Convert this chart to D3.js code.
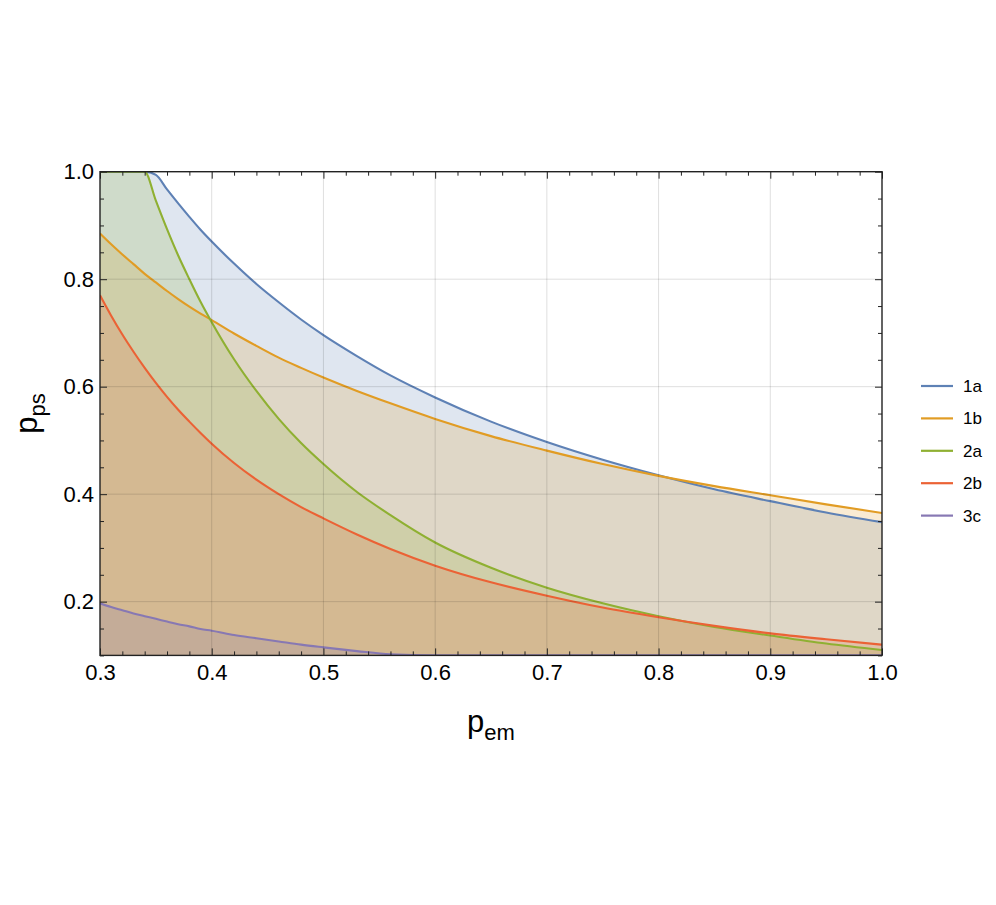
<!DOCTYPE html>
<html><head><meta charset="utf-8">
<script src="https://cdn.jsdelivr.net/npm/d3@7"></script>
<style>body{margin:0;background:#fff}</style>
</head><body><svg id="c" width="996" height="905" xmlns="http://www.w3.org/2000/svg"></svg>
<script>
// ---- data ----
const pem = [0.30,0.31,0.32,0.33,0.34,0.35,0.36,0.37,0.38,0.39,0.40,0.42,0.44,0.46,0.48,0.50,0.53,0.56,0.60,0.65,0.70,0.75,0.80,0.85,0.90,0.95,1.00];
const s1a = [1.0,1.0,1.0,1.0,1.0,0.994,0.967,0.941,0.916,0.892,0.870,0.829,0.791,0.757,0.725,0.696,0.657,0.621,0.580,0.535,0.497,0.464,0.435,0.409,0.387,0.366,0.348];
const s1b = [0.885,0.865,0.846,0.828,0.810,0.794,0.778,0.763,0.749,0.736,0.724,0.699,0.676,0.654,0.635,0.617,0.592,0.569,0.540,0.508,0.481,0.456,0.434,0.415,0.398,0.381,0.365];
const s2a = [1.0,1.0,1.0,1.0,1.0,0.946,0.893,0.844,0.800,0.758,0.720,0.651,0.592,0.540,0.495,0.456,0.404,0.361,0.310,0.263,0.226,0.197,0.173,0.153,0.137,0.122,0.110];
const s2b = [0.770,0.732,0.697,0.665,0.635,0.607,0.581,0.557,0.535,0.514,0.494,0.458,0.427,0.400,0.376,0.355,0.325,0.298,0.267,0.236,0.211,0.189,0.171,0.155,0.141,0.130,0.120];
const s3c = [0.197,0.190,0.184,0.178,0.173,0.168,0.163,0.158,0.154,0.149,0.146,0.138,0.132,0.126,0.120,0.115,0.108,0.102,0.100,0.100,0.100,0.100,0.100,0.100,0.100,0.100,0.100];
const seriesNames = ["1a","1b","2a","2b","3c"];
const seriesValues = [s1a,s1b,s2a,s2b,s3c];
const seriesColors = ["#5e81b5","#e19c24","#8fb032","#eb6235","#8778b3"];
const xMajor = [0.3,0.4,0.5,0.6,0.7,0.8,0.9,1.0];
const yMajor = [0.2,0.4,0.6,0.8,1.0];
const xMinor = d3.range(30,101,2).map(v=>v/100);
const yMinor = d3.range(10,101,5).map(v=>v/100);

// ---- layout ----
const L=100, R=882, T=171.7, B=655.4;
const x = d3.scaleLinear([0.3,1.0],[L,R]);
const y = d3.scaleLinear([0.1,1.0],[B,T]);
const svg = d3.select("#c");
const FONT = "'Liberation Sans', Arial, Helvetica, sans-serif";

svg.append("defs").append("clipPath").attr("id","clip")
  .append("rect").attr("x",L).attr("y",T).attr("width",R-L).attr("height",B-T);

const plot = svg.append("g").attr("clip-path","url(#clip)");
const area = d3.area().curve(d3.curveMonotoneX).x((d,i)=>x(pem[i])).y0(y(0.1)).y1(d=>y(d));
const line = d3.line().curve(d3.curveMonotoneX).x((d,i)=>x(pem[i])).y(d=>y(d));

seriesValues.forEach((vals,k)=>{
  plot.append("path").attr("d",area(vals))
    .attr("fill",seriesColors[k]).attr("fill-opacity",0.2).attr("stroke","none");
});

// grid
const grid = svg.append("g").attr("stroke","rgba(0,0,0,0.13)").attr("stroke-width",1);
xMajor.filter(v=>v>0.3&&v<1.0).forEach(v=>{
  grid.append("line").attr("x1",x(v)).attr("x2",x(v)).attr("y1",T).attr("y2",B);
});
yMajor.filter(v=>v<1.0).forEach(v=>{
  grid.append("line").attr("x1",L).attr("x2",R).attr("y1",y(v)).attr("y2",y(v));
});

seriesValues.forEach((vals,k)=>{
  plot.append("path").attr("d",line(vals))
    .attr("fill","none").attr("stroke",seriesColors[k]).attr("stroke-width",2.1);
});

// axes
function styleAxis(g){
  g.select(".domain").remove();
  g.selectAll(".tick line").attr("stroke","#222").attr("stroke-width",1);
  g.selectAll("text").attr("font-family",FONT).attr("font-size",22).attr("fill","#000");
}
const fmt = d3.format(".1f");
const notMajor = (arr, maj) => arr.filter(v=>!maj.some(m=>Math.abs(m-v)<1e-9));
svg.append("g").attr("transform",`translate(0,${B})`)
  .call(d3.axisBottom(x).tickValues(xMajor).tickSize(-7).tickSizeOuter(0).tickPadding(9).tickFormat(fmt)).call(styleAxis);
svg.append("g").attr("transform",`translate(0,${B})`)
  .call(d3.axisBottom(x).tickValues(notMajor(xMinor,xMajor)).tickSize(-4).tickSizeOuter(0).tickFormat("")).call(styleAxis);
svg.append("g").attr("transform",`translate(0,${T})`)
  .call(d3.axisTop(x).tickValues(xMajor).tickSize(-7).tickSizeOuter(0).tickFormat("")).call(styleAxis);
svg.append("g").attr("transform",`translate(0,${T})`)
  .call(d3.axisTop(x).tickValues(notMajor(xMinor,xMajor)).tickSize(-4).tickSizeOuter(0).tickFormat("")).call(styleAxis);
svg.append("g").attr("transform",`translate(${L},0)`)
  .call(d3.axisLeft(y).tickValues(yMajor).tickSize(-7).tickSizeOuter(0).tickPadding(6).tickFormat(fmt)).call(styleAxis);
svg.append("g").attr("transform",`translate(${L},0)`)
  .call(d3.axisLeft(y).tickValues(notMajor(yMinor,yMajor)).tickSize(-4).tickSizeOuter(0).tickFormat("")).call(styleAxis);
svg.append("g").attr("transform",`translate(${R},0)`)
  .call(d3.axisRight(y).tickValues(yMajor).tickSize(-7).tickSizeOuter(0).tickFormat("")).call(styleAxis);
svg.append("g").attr("transform",`translate(${R},0)`)
  .call(d3.axisRight(y).tickValues(notMajor(yMinor,yMajor)).tickSize(-4).tickSizeOuter(0).tickFormat("")).call(styleAxis);

// frame
svg.append("rect").attr("x",L).attr("y",T).attr("width",R-L).attr("height",B-T)
  .attr("fill","none").attr("stroke","#222").attr("stroke-width",1.4);

// axis titles
const xt = svg.append("text").attr("x",(L+R)/2).attr("y",732).attr("text-anchor","middle")
  .attr("font-family",FONT).attr("fill","#000");
xt.append("tspan").attr("font-size",31).text("p");
xt.append("tspan").attr("font-size",22).attr("dy",8).text("em");

const yt = svg.append("text").attr("transform",`translate(37,${(T+B)/2}) rotate(-90)`).attr("text-anchor","middle")
  .attr("font-family",FONT).attr("fill","#000");
yt.append("tspan").attr("font-size",31).text("p");
yt.append("tspan").attr("font-size",22).attr("dy",8).text("ps");

// legend
const leg = svg.append("g");
seriesNames.forEach((n,k)=>{
  const cy = 386 + k*32.4;
  leg.append("line").attr("x1",921).attr("x2",953).attr("y1",cy).attr("y2",cy)
    .attr("stroke",seriesColors[k]).attr("stroke-width",2.2);
  leg.append("text").attr("x",963).attr("y",cy+6).attr("font-family",FONT).attr("font-size",17)
    .attr("fill","#000").text(n);
});
</script>
</body></html>
